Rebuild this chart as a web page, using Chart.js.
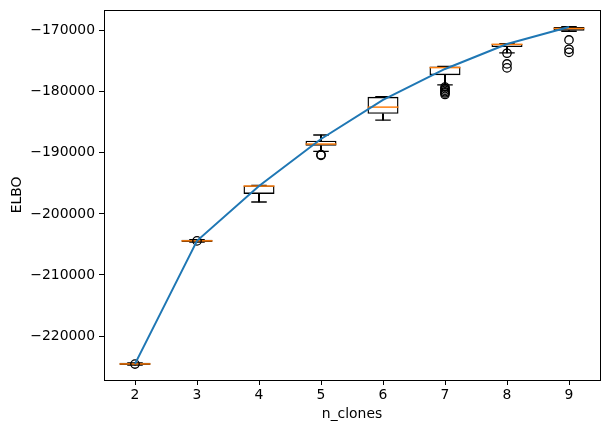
<!DOCTYPE html>
<html>
<head>
<meta charset="utf-8">
<script src="https://cdn.jsdelivr.net/npm/chart.js@4"></script>
<style>
  html, body { margin: 0; padding: 0; background: #fff; }
  #wrap { width: 609px; height: 433px; }
</style>
</head>
<body>
<div id="wrap"><canvas id="elboChart" width="609" height="433"></canvas></div>
<script>
// categories (number of clones)
const nClones = ['2', '3', '4', '5', '6', '7', '8', '9'];

// blue curve
const elboLine = [-224550, -204400, -195430, -187740, -181350, -176270, -172180, -169400];

// box plot stats per category
const q1 = [-224750, -204600, -196730, -188840, -183610, -177300, -172690, -170000];
const q3 = [-224380, -204230, -195330, -188020, -180830, -175880, -172130, -169400];
const medians = [-224560, -204410, -195440, -188560, -182520, -176050, -172250, -169650];
const whiskerLo = [-224750, -204600, -198040, -189770, -184640, -178870, -173640, -170100];
const whiskerHi = [-224380, -204230, -195330, -187090, -180830, -175880, -172130, -169350];
const outliers = [
    [-224580],
    [-204420],
    [],
    [-190310, -190420],
    [],
    [-179250, -179500, -179750, -180000, -180200, -180450],
    [-173700, -175450, -176100],
    [-171520, -173050, -173560]
];

// y tick labels
const yTicks = [-220000, -210000, -200000, -190000, -180000, -170000];

const FONT = { family: 'DejaVu Sans', size: 13.9 };
const MINUS = '\u2212';

const outlierPoints = [];
outliers.forEach((list, i) => {
    list.forEach(v => outlierPoints.push({ x: nClones[i], y: v }));
});

const frame = {
    id: 'frame',
    afterDraw(chart) {
        const a = chart.chartArea;
        const ctx = chart.ctx;
        ctx.save();
        ctx.strokeStyle = '#000';
        ctx.lineWidth = 1;
        ctx.strokeRect(Math.round(a.left) + 0.5, Math.round(a.top) + 0.5,
            Math.round(a.right - a.left), Math.round(a.bottom - a.top));
        ctx.restore();
    }
};

new Chart(document.getElementById('elboChart').getContext('2d'), {
    data: {
        labels: nClones,
        datasets: [
            {
                type: 'line',
                data: elboLine,
                borderColor: '#1f77b4',
                borderWidth: 2,
                pointRadius: 0,
                tension: 0,
                order: 0
            },
            {
                type: 'bar',
                data: q1.map((v, i) => [v, q3[i]]),
                backgroundColor: 'rgba(255,255,255,0)',
                borderColor: '#000',
                borderWidth: 1.4,
                borderSkipped: false,
                grouped: false,
                barPercentage: 0.5,
                categoryPercentage: 1,
                order: 3
            },
            {
                type: 'bar',
                data: whiskerLo.map((v, i) => [v, q1[i]]),
                backgroundColor: '#000',
                borderWidth: 0,
                grouped: false,
                barThickness: 1.4,
                order: 4
            },
            {
                type: 'bar',
                data: q3.map((v, i) => [v, whiskerHi[i]]),
                backgroundColor: '#000',
                borderWidth: 0,
                grouped: false,
                barThickness: 1.4,
                order: 4
            },
            {
                type: 'line',
                data: whiskerLo.concat([]),
                showLine: false,
                pointStyle: 'line',
                pointRadius: 7.75,
                pointBorderColor: '#000',
                pointBorderWidth: 1.4,
                order: 4
            },
            {
                type: 'line',
                data: whiskerHi.concat([]),
                showLine: false,
                pointStyle: 'line',
                pointRadius: 7.75,
                pointBorderColor: '#000',
                pointBorderWidth: 1.4,
                order: 4
            },
            {
                type: 'line',
                data: medians,
                showLine: false,
                pointStyle: 'line',
                pointRadius: 15.5,
                pointBorderColor: '#ff7f0e',
                pointBorderWidth: 1.5,
                order: 2
            },
            {
                type: 'line',
                data: outlierPoints,
                showLine: false,
                pointStyle: 'circle',
                pointRadius: 4.2,
                pointBackgroundColor: 'rgba(0,0,0,0)',
                pointBorderColor: '#000',
                pointBorderWidth: 1.3,
                order: 1
            }
        ]
    },
    options: {
        responsive: false,
        animation: false,
        layout: { autoPadding: false, padding: { top: 10, right: 9, left: 0, bottom: 0 } },
        plugins: {
            legend: { display: false },
            tooltip: { enabled: false }
        },
        scales: {
            x: {
                type: 'category',
                offset: true,
                grid: { drawOnChartArea: false, drawTicks: true, tickLength: 5, color: '#000', offset: false },
                border: { display: true, color: '#000', width: 1 },
                ticks: { color: '#000', font: FONT, padding: 2, maxRotation: 0 },
                title: { display: true, text: 'n_clones', color: '#000', font: FONT, padding: { top: 0, bottom: 10 } },
                afterFit: (scale) => {
                    scale.height = 53;
                    scale.paddingLeft = 0;
                    scale.paddingRight = 0;
                }
            },
            y: {
                type: 'linear',
                min: -227190,
                max: -166620,
                afterBuildTicks: (scale) => { scale.ticks = yTicks.map(v => ({ value: v })); },
                grid: { drawOnChartArea: false, drawTicks: true, tickLength: 5, color: '#000' },
                border: { display: true, color: '#000', width: 1 },
                ticks: {
                    color: '#000',
                    font: FONT,
                    padding: 4,
                    callback: (v) => (v < 0 ? MINUS : '') + Math.abs(v)
                },
                title: { display: true, text: 'ELBO', color: '#000', font: FONT, padding: { top: 9, bottom: 4 } },
                afterFit: (scale) => {
                    scale.width = 104;
                    scale.paddingTop = 0;
                    scale.paddingBottom = 0;
                }
            }
        }
    },
    plugins: [frame]
});
</script>
</body>
</html>
